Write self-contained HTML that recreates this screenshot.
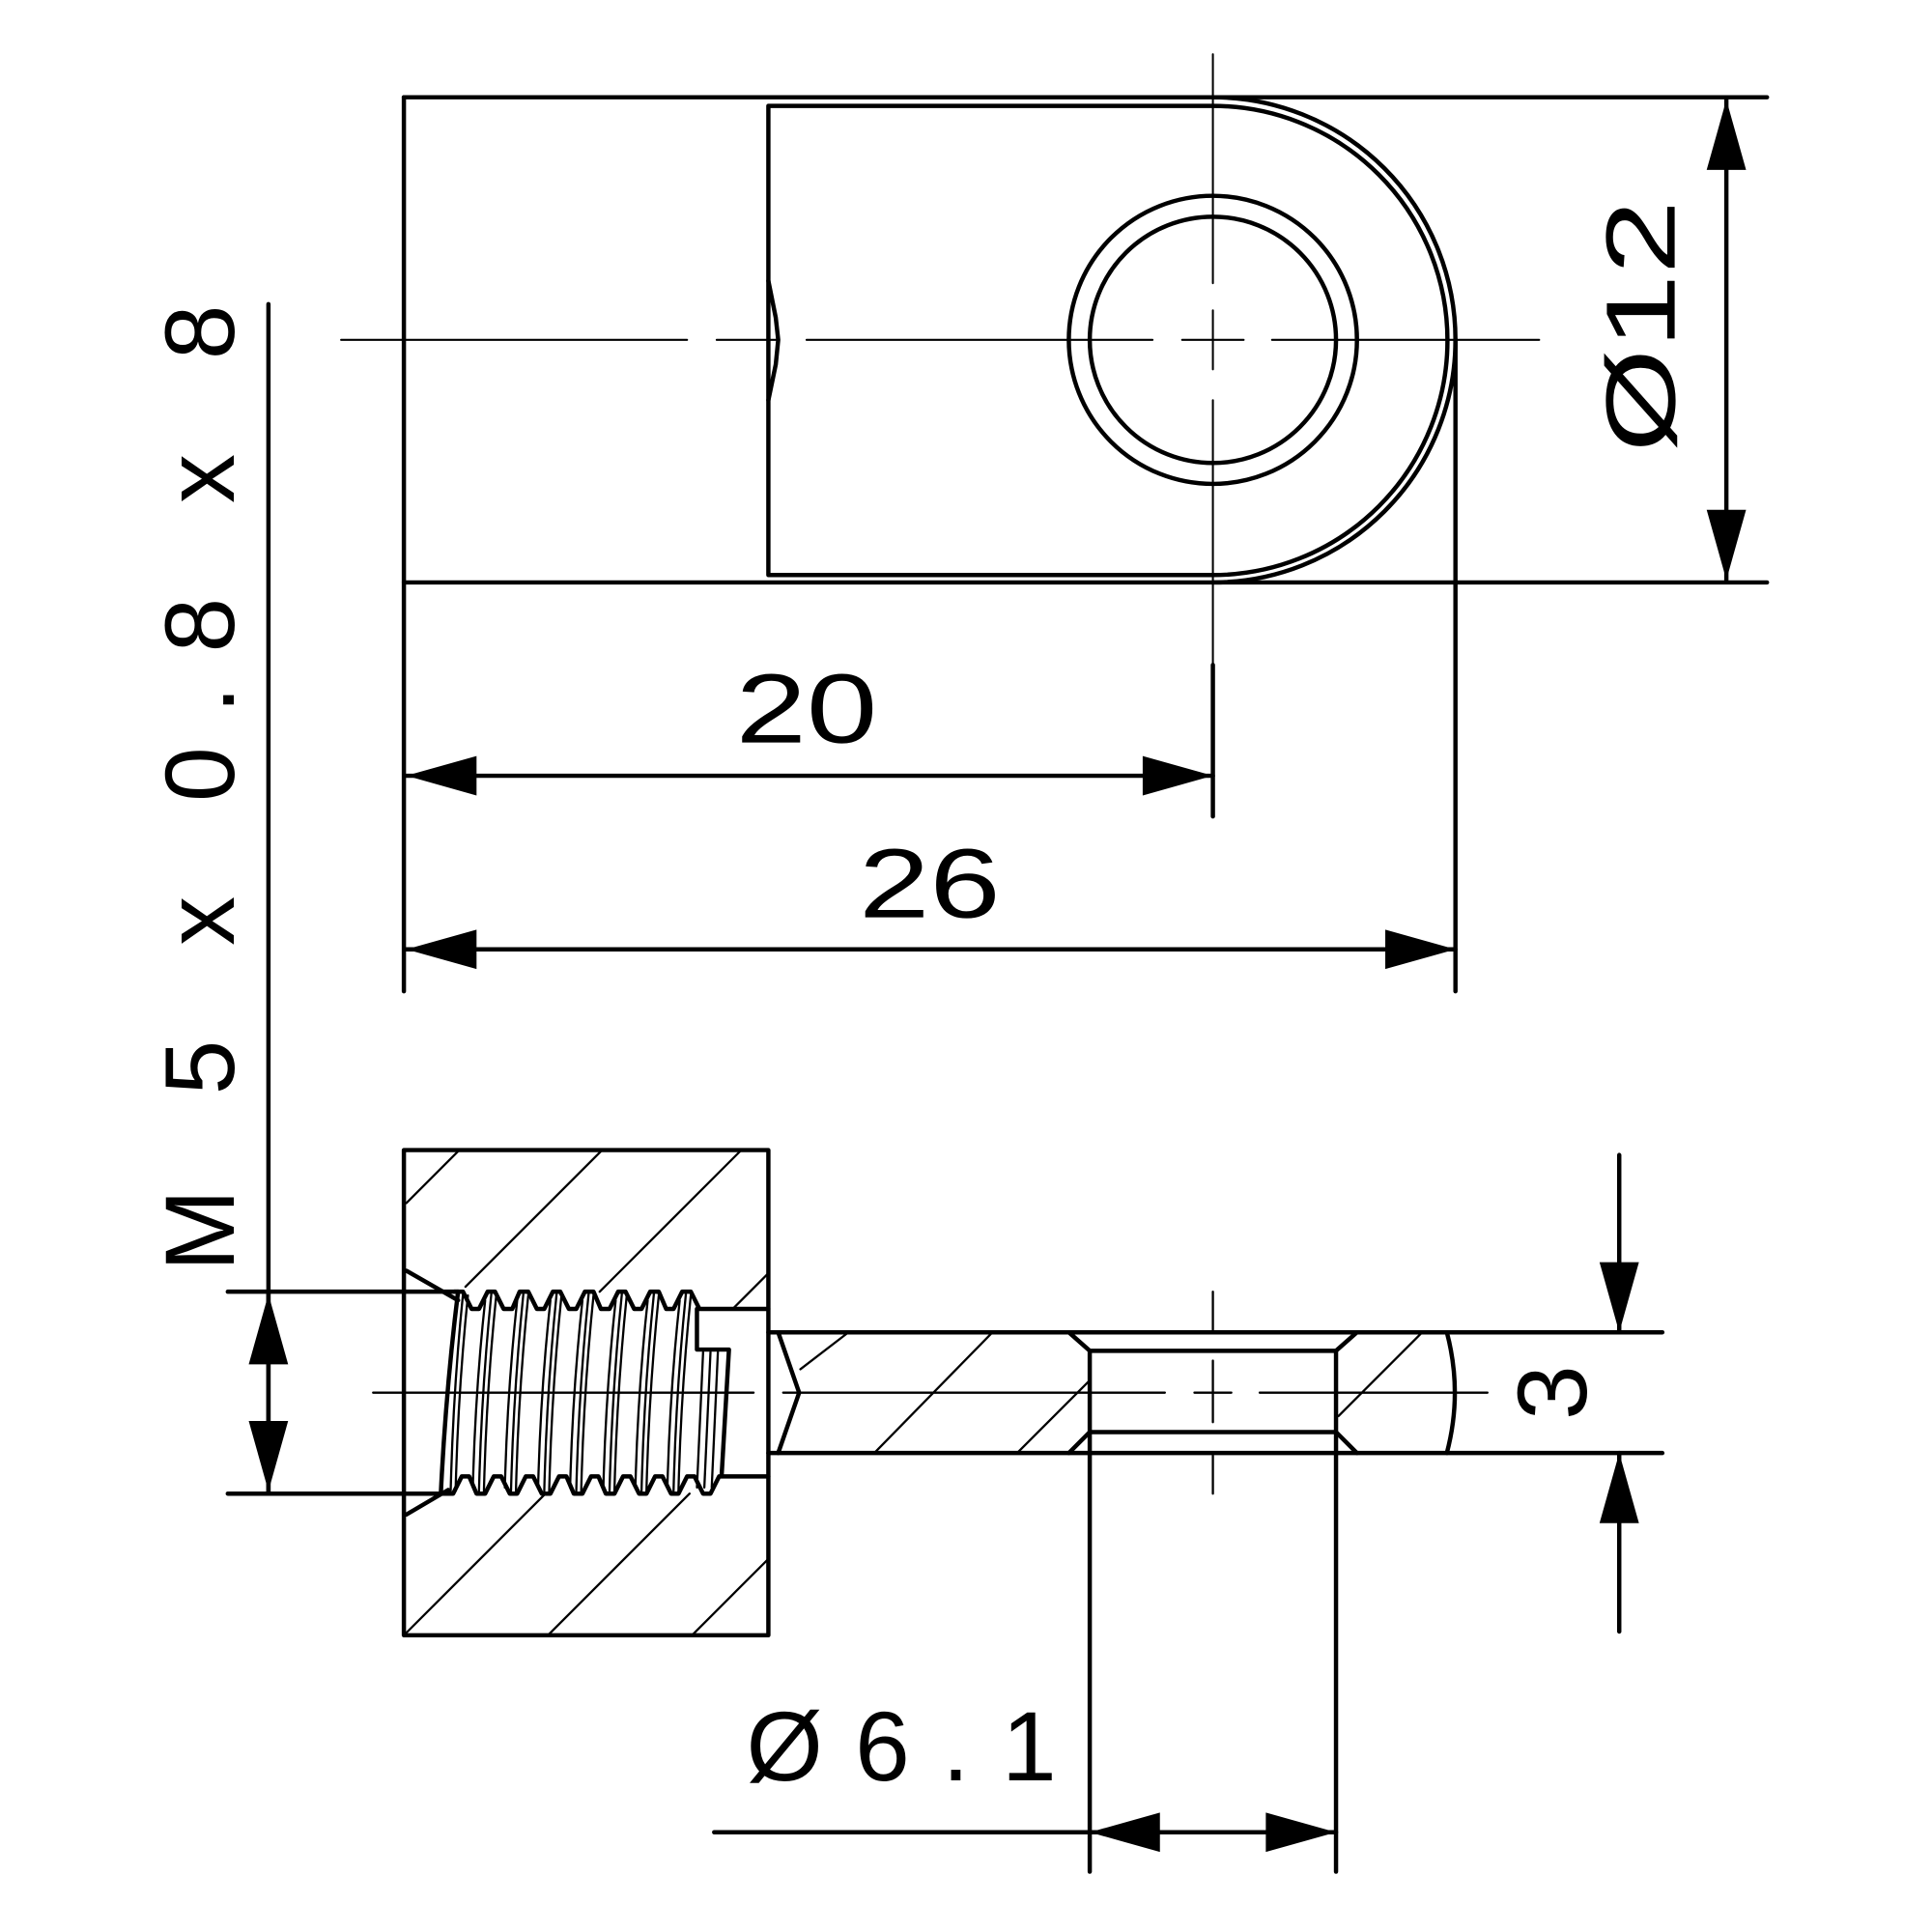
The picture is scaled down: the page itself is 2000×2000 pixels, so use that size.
<!DOCTYPE html>
<html><head><meta charset="utf-8"><style>html,body{margin:0;padding:0;background:#fff}svg{display:block}</style></head>
<body>
<svg width="2000" height="2000" viewBox="0 0 1569 1569" xmlns="http://www.w3.org/2000/svg">
<g fill="none" stroke="#000" stroke-linecap="round" stroke-linejoin="round">
<!-- top view -->
<g stroke-width="3.5">
<line x1="328" y1="79" x2="1435" y2="79"/>
<line x1="328" y1="473" x2="1435" y2="473"/>
<line x1="328" y1="79" x2="328" y2="805"/>
<line x1="1182" y1="276" x2="1182" y2="805"/>
<path d="M985 86 L624 86 L624 467 L985 467"/>
<path d="M985 79 A197 197 0 0 1 985 473"/>
<path d="M985 86 A190 190 0 0 1 985 467"/>
<circle cx="985" cy="276" r="117"/>
<circle cx="985" cy="276" r="100"/>
<path d="M624 228 L630 258 L632 276 L630 296 L624 325"/>
<line x1="985" y1="540" x2="985" y2="663"/>
<line x1="330" y1="630" x2="985" y2="630"/>
<line x1="330" y1="771" x2="1182" y2="771"/>
<line x1="1402" y1="81" x2="1402" y2="471"/>
<line x1="218" y1="247" x2="218" y2="1213"/>
</g>
<g stroke-width="1.6">
<path d="M277 276 H558 M582 276 H632 M655 276 H936 M960 276 H1010 M1033 276 H1250"/>
<path d="M985 44 V230 M985 252 V300 M985 325 V540"/>
</g>
<!-- bottom view -->
<g stroke-width="3.5">
<rect x="328" y="934" width="296" height="394"/>
<line x1="185" y1="1049" x2="372" y2="1049"/>
<line x1="185" y1="1213" x2="362" y2="1213"/>
<path d="M330 1032 L372 1056 M330 1230 L364 1210"/>
<path d="M369 1049 L376 1049 L383 1063 L389 1063 L396 1049 L402 1049 L409 1063 L416 1063 L422 1049 L429 1049 L436 1063 L442 1063 L449 1049 L455 1049 L462 1063 L468 1063 L475 1049 L482 1049 L488 1063 L495 1063 L502 1049 L508 1049 L515 1063 L521 1063 L528 1049 L535 1049 L541 1063 L547 1063 L554 1049 L561 1049 L568 1063 L624 1063"/>
<path d="M360 1213 L368 1213 L375 1199 L381 1199 L387 1213 L394 1213 L401 1199 L407 1199 L414 1213 L420 1213 L427 1199 L433 1199 L440 1213 L447 1213 L454 1199 L460 1199 L466 1213 L473 1213 L480 1199 L486 1199 L492 1213 L499 1213 L506 1199 L512 1199 L519 1213 L525 1213 L532 1199 L538 1199 L545 1213 L551 1213 L558 1199 L564 1199 L571 1213 L577 1213 L584 1199 L624 1199"/>
<path d="M372 1049 Q362 1130 358 1213"/>
<path d="M566 1063 L566 1096 L592 1096 L586 1199"/>
<line x1="624" y1="1082" x2="868" y2="1082"/>
<line x1="624" y1="1180" x2="868" y2="1180"/>
<line x1="1102" y1="1082" x2="1350" y2="1082"/>
<line x1="1102" y1="1180" x2="1350" y2="1180"/>
<path d="M868 1082 L885 1097 L1085 1097 L1102 1082 M868 1082 L1102 1082"/>
<path d="M868 1180 L885 1163 L1085 1163 L1102 1180 M868 1180 L1102 1180"/>
<path d="M885 1097 V1163 M1085 1097 V1163"/>
<path d="M632 1082 L649 1131 L632 1180"/>
<path d="M1175 1082 Q1188 1131 1175 1180"/>
<line x1="885" y1="1163" x2="885" y2="1520"/>
<line x1="1085" y1="1163" x2="1085" y2="1520"/>
<line x1="580" y1="1488" x2="1085" y2="1488"/>
<line x1="1315" y1="938" x2="1315" y2="1082"/>
<line x1="1315" y1="1180" x2="1315" y2="1325"/>
<line x1="218" y1="1049" x2="218" y2="1213"/>
</g>
<g stroke-width="1.8">
<path d="M376 1051 Q368 1130 366 1211 M380 1052 Q372 1130 370 1211"/>
<path d="M399 1051 Q391 1130 389 1211 M403 1052 Q395 1130 393 1211 M394 1056 Q386 1130 384 1208"/>
<path d="M425 1051 Q417 1130 415 1211 M429 1052 Q421 1130 419 1211 M420 1056 Q412 1130 410 1208"/>
<path d="M452 1051 Q444 1130 442 1211 M456 1052 Q448 1130 446 1211 M447 1056 Q439 1130 437 1208"/>
<path d="M478 1051 Q470 1130 468 1211 M482 1052 Q474 1130 472 1211 M473 1056 Q465 1130 463 1208"/>
<path d="M505 1051 Q497 1130 495 1211 M509 1052 Q501 1130 499 1211 M500 1056 Q492 1130 490 1208"/>
<path d="M531 1051 Q523 1130 521 1211 M535 1052 Q527 1130 525 1211 M526 1056 Q518 1130 516 1208"/>
<path d="M557 1051 Q549 1130 547 1211 M561 1052 Q553 1130 551 1211 M552 1056 Q544 1130 542 1208"/>
<path d="M571 1098 L566 1208 M577 1098 L572 1208 M583 1098 L578 1208"/>
<!-- hatching -->
<path d="M330 977 L373 934 M378 1045 L489 934 M487 1049 L602 934 M595 1063 L624 1034"/>
<path d="M330 1326 L443 1213 M445 1328 L560 1213 M562 1328 L624 1266"/>
<path d="M650 1112 L689 1082 M710 1180 L806 1082 M826 1180 L885 1121 M1087 1150 L1155 1082"/>
<path d="M303 1131 H612 M636 1131 H946 M970 1131 H1000 M1023 1131 H1208"/>
<path d="M985 1049 V1080 M985 1105 V1155 M985 1182 V1213"/>
</g>
</g>
<!-- arrowheads -->
<g fill="#000">
<polygon points="330,630 387,614 387,646"/>
<polygon points="985,630 928,614 928,646"/>
<polygon points="330,771 387,755 387,787"/>
<polygon points="1182,771 1125,755 1125,787"/>
<polygon points="1402,81 1386,138 1418,138"/>
<polygon points="1402,471 1386,414 1418,414"/>
<polygon points="218,1051 202,1108 234,1108"/>
<polygon points="218,1211 202,1154 234,1154"/>
<polygon points="885,1488 942,1472 942,1504"/>
<polygon points="1085,1488 1028,1472 1028,1504"/>
<polygon points="1315,1082 1299,1025 1331,1025"/>
<polygon points="1315,1180 1299,1237 1331,1237"/>
</g>
<!-- text -->
<g font-family="Liberation Sans, sans-serif" font-size="80" fill="#000">
<text x="655" y="603" text-anchor="middle" textLength="115" lengthAdjust="spacingAndGlyphs">20</text>
<text x="755" y="745" text-anchor="middle" textLength="115" lengthAdjust="spacingAndGlyphs">26</text>
<text x="732" y="1446" text-anchor="middle" textLength="252" lengthAdjust="spacing">Ø6.1</text>
<text transform="translate(1360,265) rotate(-90)" text-anchor="middle" textLength="205" lengthAdjust="spacingAndGlyphs">Ø12</text>
<text transform="translate(1288,1131) rotate(-90)" text-anchor="middle">3</text>
<text transform="translate(190,640) rotate(-90)" text-anchor="middle" textLength="785" lengthAdjust="spacing">M 5 x 0.8 x 8</text>
</g>
</svg>
</body></html>
